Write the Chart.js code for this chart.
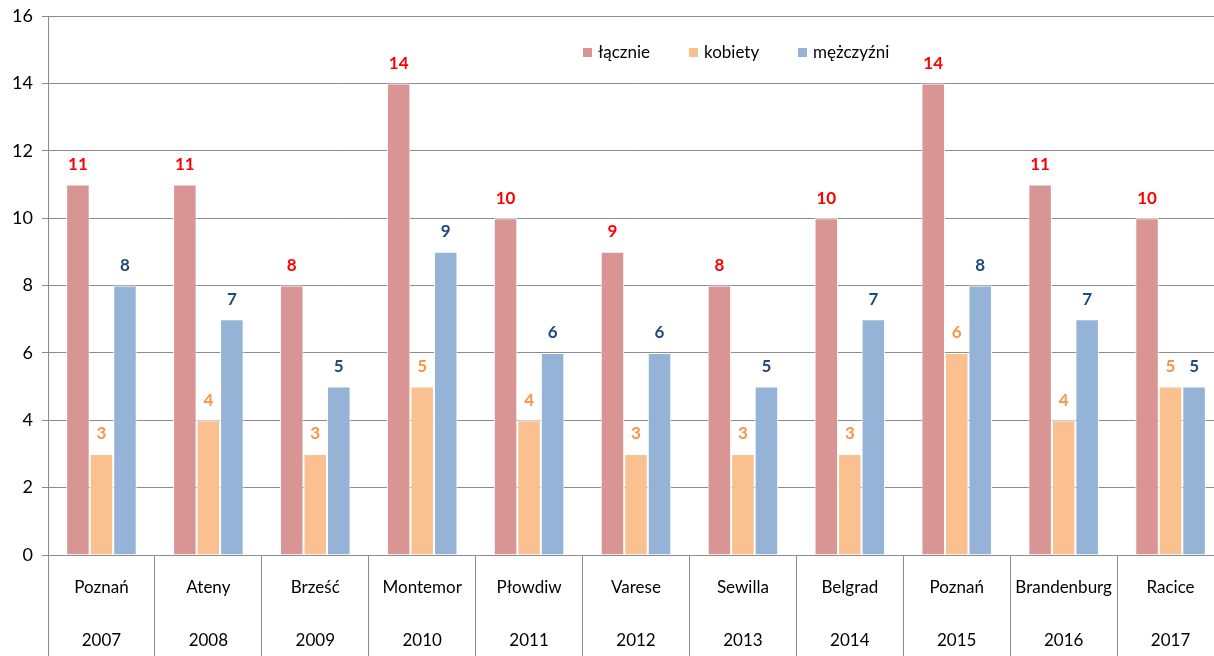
<!DOCTYPE html>
<html>
<head>
<meta charset="utf-8">
<script src="https://cdn.jsdelivr.net/npm/chart.js@4/dist/chart.umd.min.js"></script>
<style>
  html, body { margin: 0; padding: 0; background: #fff; overflow: hidden; }
  #wrap { position: relative; width: 1224px; height: 656px; }
</style>
</head>
<body>
<div id="wrap"><canvas id="chart"></canvas></div>
<script>
var cities = ["Poznań", "Ateny", "Brześć", "Montemor", "Płowdiw", "Varese", "Sewilla", "Belgrad", "Poznań", "Brandenburg", "Racice"];
var years = ["2007", "2008", "2009", "2010", "2011", "2012", "2013", "2014", "2015", "2016", "2017"];
var seriesNames = ["łącznie", "kobiety", "mężczyźni"];
var lacznie = [11, 11, 8, 14, 10, 9, 8, 10, 14, 11, 10];
var kobiety = [3, 4, 3, 5, 4, 3, 3, 3, 6, 4, 5];
var mezczyzni = [8, 7, 5, 9, 6, 6, 5, 7, 8, 7, 5];

var fillColors = ["#d99594", "#fac090", "#95b3d7"];
var labelColors = ["#ff0000", "#f79646", "#1f497d"];
var fontFamily = "Lato, 'Open Sans', sans-serif";

var labels = cities.map(function (c, i) { return [c, years[i]]; });

// value labels above bars
var valueLabels = {
  id: "valueLabels",
  afterDatasetsDraw: function (chart) {
    var ctx = chart.ctx;
    ctx.save();
    ctx.font = "bold 17px " + fontFamily;
    ctx.textAlign = "center";
    ctx.textBaseline = "middle";
    chart.data.datasets.forEach(function (ds, di) {
      var meta = chart.getDatasetMeta(di);
      ctx.fillStyle = labelColors[di];
      meta.data.forEach(function (bar, i) {
        ctx.fillText(ds.data[i], bar.x, bar.y - 20);
      });
    });
    ctx.restore();
  }
};

// legend drawn inside the plot
var innerLegend = {
  id: "innerLegend",
  afterDraw: function (chart) {
    var ctx = chart.ctx;
    var xs = [583, 689, 798];
    var y = 53;
    ctx.save();
    ctx.font = "17px " + fontFamily;
    ctx.textBaseline = "middle";
    ctx.textAlign = "left";
    chart.data.datasets.forEach(function (ds, di) {
      ctx.fillStyle = ds.backgroundColor;
      ctx.fillRect(xs[di], y - 5, 9, 9);
      ctx.fillStyle = "#000";
      ctx.fillText(ds.label, xs[di] + 15, y);
    });
    ctx.restore();
  }
};

var datasets = [lacznie, kobiety, mezczyzni].map(function (d, i) {
  return {
    label: seriesNames[i],
    data: d,
    backgroundColor: fillColors[i],
    borderColor: "#ffffff",
    borderWidth: 1,
    categoryPercentage: 0.66,
    barPercentage: 1.0
  };
});

new Chart(document.getElementById("chart"), {
  type: "bar",
  data: { labels: labels, datasets: datasets },
  options: {
    responsive: true,
    maintainAspectRatio: false,
    animation: false,
    layout: { padding: { top: 16, left: 0, right: 0, bottom: 0 } },
    plugins: {
      legend: { display: false },
      tooltip: { enabled: false }
    },
    scales: {
      x: {
        afterFit: function (scale) {
          scale.height = 101;
          scale.paddingLeft = 0;
          scale.paddingRight = 0;
        },
        grid: {
          offset: true,
          drawOnChartArea: false,
          drawTicks: true,
          tickLength: 101,
          tickColor: "#8c8c8c",
          color: "#8c8c8c"
        },
        border: { color: "#8c8c8c" },
        ticks: {
          color: "#000",
          padding: -95,
          maxRotation: 0,
          autoSkip: false,
          font: { size: 17, family: fontFamily, lineHeight: "53px" }
        }
      },
      y: {
        min: 0,
        max: 16,
        afterFit: function (scale) {
          scale.width = 48;
          scale.paddingTop = 0;
          scale.paddingBottom = 0;
        },
        grid: {
          color: "#8c8c8c",
          tickColor: "#8c8c8c",
          tickLength: 6
        },
        border: { color: "#8c8c8c" },
        ticks: {
          stepSize: 2,
          color: "#000",
          padding: 9,
          font: { size: 18, family: fontFamily }
        }
      }
    }
  },
  plugins: [valueLabels, innerLegend]
});
</script>
</body>
</html>
